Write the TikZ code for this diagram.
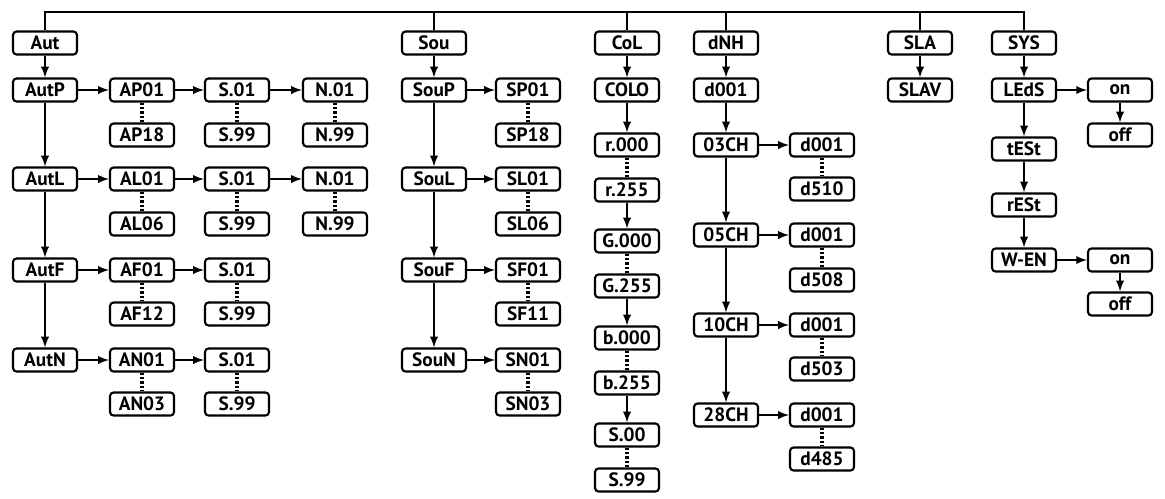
\documentclass[tikz,border=0pt]{standalone}
\usepackage{fontspec}
\setmainfont{PT Sans}
\begin{document}
\begin{tikzpicture}[>=latex,thick,x=0.02cm,y=-0.02cm,
	menu/.style={draw,line width=1.2pt,rounded corners=2pt,minimum width=1.28cm,
		minimum height=0.46cm,inner sep=0pt,font=\bfseries\fontsize{11}{11}\selectfont},
	go/.style={->,line width=1.1pt},
	dots/.style={line width=2pt,dash pattern=on 1.4pt off 1.1pt}]
\useasboundingbox (0,0) rectangle (1165,498);
% Aut
\node[menu] (Aut) at (45,43) {Aut};
\node[menu] (AutP) at (45,90) {AutP};
\node[menu] (AutL) at (45,179) {AutL};
\node[menu] (AutF) at (45,270) {AutF};
\node[menu] (AutN) at (45,360) {AutN};
\node[menu] (AP01) at (142,90) {AP01};
\node[menu] (AP18) at (142,135) {AP18};
\node[menu] (AL01) at (142,179) {AL01};
\node[menu] (AL06) at (142,224) {AL06};
\node[menu] (AF01) at (142,270) {AF01};
\node[menu] (AF12) at (142,314) {AF12};
\node[menu] (AN01) at (142,360) {AN01};
\node[menu] (AN03) at (142,404) {AN03};
\node[menu] (APs1) at (237,90) {S.01};
\node[menu] (APs9) at (237,135) {S.99};
\node[menu] (ALs1) at (237,179) {S.01};
\node[menu] (ALs9) at (237,224) {S.99};
\node[menu] (AFs1) at (237,270) {S.01};
\node[menu] (AFs9) at (237,314) {S.99};
\node[menu] (ANs1) at (237,360) {S.01};
\node[menu] (ANs9) at (237,404) {S.99};
\node[menu] (APn1) at (335,90) {N.01};
\node[menu] (APn9) at (335,135) {N.99};
\node[menu] (ALn1) at (335,179) {N.01};
\node[menu] (ALn9) at (335,224) {N.99};
% Sou
\node[menu] (Sou) at (434,43) {Sou};
\node[menu] (SouP) at (434,90) {SouP};
\node[menu] (SouL) at (434,179) {SouL};
\node[menu] (SouF) at (434,270) {SouF};
\node[menu] (SouN) at (434,360) {SouN};
\node[menu] (SP01) at (528,90) {SP01};
\node[menu] (SP18) at (528,135) {SP18};
\node[menu] (SL01) at (528,179) {SL01};
\node[menu] (SL06) at (528,224) {SL06};
\node[menu] (SF01) at (528,270) {SF01};
\node[menu] (SF11) at (528,314) {SF11};
\node[menu] (SN01) at (528,360) {SN01};
\node[menu] (SN03) at (528,404) {SN03};
% CoL
\node[menu] (CoL) at (627,43) {CoL};
\node[menu] (COLO) at (627,90) {COLO};
\node[menu] (r0) at (627,145) {r.000};
\node[menu] (r9) at (627,190) {r.255};
\node[menu] (g0) at (627,241) {G.000};
\node[menu] (g9) at (627,286) {G.255};
\node[menu] (b0) at (627,338) {b.000};
\node[menu] (b9) at (627,383) {b.255};
\node[menu] (s0) at (627,435) {S.00};
\node[menu] (s9) at (627,480) {S.99};
% dNH
\node[menu] (dNH) at (726,43) {dNH};
\node[menu] (dst) at (726,90) {d001};
\node[menu] (ch3) at (726,145) {03CH};
\node[menu] (ch5) at (726,235) {05CH};
\node[menu] (ch10) at (726,325) {10CH};
\node[menu] (ch28) at (726,415) {28CH};
\node[menu] (ch3a) at (822,145) {d001};
\node[menu] (ch3b) at (822,189) {d510};
\node[menu] (ch5a) at (822,235) {d001};
\node[menu] (ch5b) at (822,280) {d508};
\node[menu] (ch10a) at (822,325) {d001};
\node[menu] (ch10b) at (822,369) {d503};
\node[menu] (ch28a) at (822,415) {d001};
\node[menu] (ch28b) at (822,459) {d485};
% SLA, SYS
\node[menu] (SLA) at (920,43) {SLA};
\node[menu] (SLAV) at (920,90) {SLAV};
\node[menu] (SYS) at (1024,43) {SYS};
\node[menu] (LEdS) at (1024,90) {LEdS};
\node[menu] (tESt) at (1024,149) {tESt};
\node[menu] (rESt) at (1024,205) {rESt};
\node[menu] (WEN) at (1024,260) {W-EN};
\node[menu] (ledon) at (1120,90) {on};
\node[menu] (ledoff) at (1120,135) {off};
\node[menu] (wenon) at (1120,260) {on};
\node[menu] (wenoff) at (1120,304) {off};
% top line
\coordinate (bus) at (500,12);
\draw[line width=1.1pt] (Aut.north) |- (bus) -| (SYS.north);
\draw[line width=1.1pt] (Sou.north) -- (Sou.north |- bus);
\draw[line width=1.1pt] (CoL.north) -- (CoL.north |- bus);
\draw[line width=1.1pt] (dNH.north) -- (dNH.north |- bus);
\draw[line width=1.1pt] (SLA.north) -- (SLA.north |- bus);
% arrows
\draw[go] (Aut) -- (AutP);
\draw[go] (AutP) -- (AutL);
\draw[go] (AutL) -- (AutF);
\draw[go] (AutF) -- (AutN);
\draw[go] (AutP) -- (AP01);
\draw[go] (AP01) -- (APs1);
\draw[go] (APs1) -- (APn1);
\draw[go] (AutL) -- (AL01);
\draw[go] (AL01) -- (ALs1);
\draw[go] (ALs1) -- (ALn1);
\draw[go] (AutF) -- (AF01);
\draw[go] (AF01) -- (AFs1);
\draw[go] (AutN) -- (AN01);
\draw[go] (AN01) -- (ANs1);
\draw[go] (Sou) -- (SouP);
\draw[go] (SouP) -- (SouL);
\draw[go] (SouL) -- (SouF);
\draw[go] (SouF) -- (SouN);
\draw[go] (SouP) -- (SP01);
\draw[go] (SouL) -- (SL01);
\draw[go] (SouF) -- (SF01);
\draw[go] (SouN) -- (SN01);
\draw[go] (CoL) -- (COLO);
\draw[go] (COLO) -- (r0);
\draw[go] (r9) -- (g0);
\draw[go] (g9) -- (b0);
\draw[go] (b9) -- (s0);
\draw[go] (dNH) -- (dst);
\draw[go] (dst) -- (ch3);
\draw[go] (ch3) -- (ch5);
\draw[go] (ch5) -- (ch10);
\draw[go] (ch10) -- (ch28);
\draw[go] (ch3) -- (ch3a);
\draw[go] (ch5) -- (ch5a);
\draw[go] (ch10) -- (ch10a);
\draw[go] (ch28) -- (ch28a);
\draw[go] (SLA) -- (SLAV);
\draw[go] (SYS) -- (LEdS);
\draw[go] (LEdS) -- (tESt);
\draw[go] (tESt) -- (rESt);
\draw[go] (rESt) -- (WEN);
\draw[go] (LEdS) -- (ledon);
\draw[go] (ledon) -- (ledoff);
\draw[go] (WEN) -- (wenon);
\draw[go] (wenon) -- (wenoff);
% ranges
\draw[dots] (AP01) -- (AP18);
\draw[dots] (AL01) -- (AL06);
\draw[dots] (AF01) -- (AF12);
\draw[dots] (AN01) -- (AN03);
\draw[dots] (APs1) -- (APs9);
\draw[dots] (ALs1) -- (ALs9);
\draw[dots] (AFs1) -- (AFs9);
\draw[dots] (ANs1) -- (ANs9);
\draw[dots] (APn1) -- (APn9);
\draw[dots] (ALn1) -- (ALn9);
\draw[dots] (SP01) -- (SP18);
\draw[dots] (SL01) -- (SL06);
\draw[dots] (SF01) -- (SF11);
\draw[dots] (SN01) -- (SN03);
\draw[dots] (r0) -- (r9);
\draw[dots] (g0) -- (g9);
\draw[dots] (b0) -- (b9);
\draw[dots] (s0) -- (s9);
\draw[dots] (ch3a) -- (ch3b);
\draw[dots] (ch5a) -- (ch5b);
\draw[dots] (ch10a) -- (ch10b);
\draw[dots] (ch28a) -- (ch28b);
\end{tikzpicture}
\end{document}
